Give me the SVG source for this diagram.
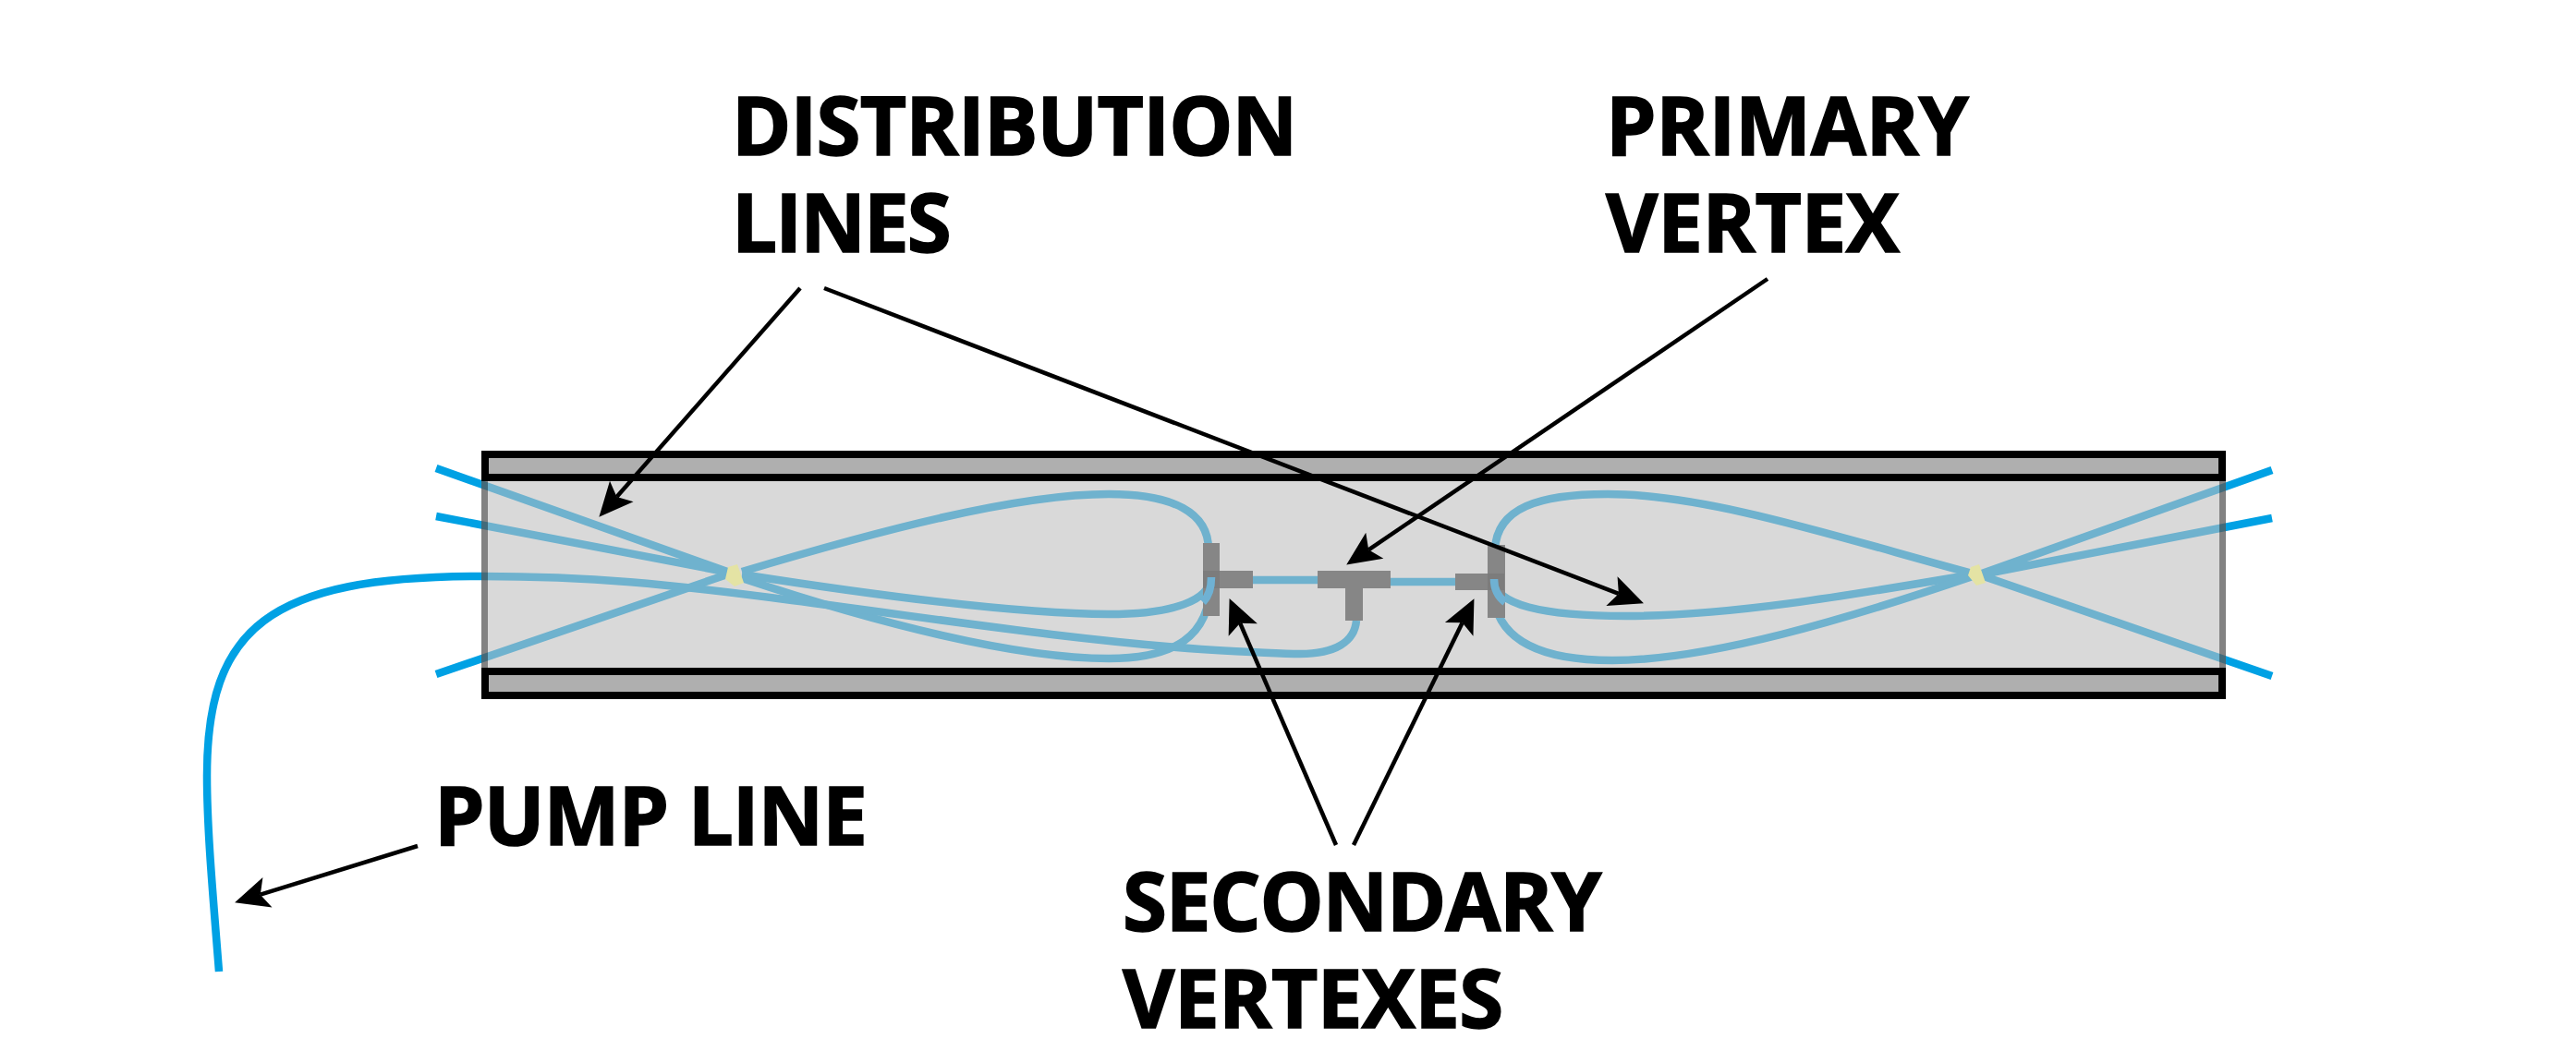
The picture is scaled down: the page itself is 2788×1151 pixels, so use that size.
<svg xmlns="http://www.w3.org/2000/svg" width="2788" height="1151" viewBox="0 0 2788 1151">
<style>
.lbl{font-family:"Open Sans","Noto Sans","Liberation Sans",sans-serif;font-weight:700;font-size:87px;fill:#000;stroke:#000;stroke-width:1.6px}
.line{fill:none;stroke:#00a1e4;stroke-width:8.5}
.line2{fill:none;stroke:#6fb1d3;stroke-width:8.5}
.band{fill:#afafaf;stroke:#000;stroke-width:8}
.edge{fill:#000;opacity:.4}
.t{fill:#868686}
.tx{fill:#7c7c7c}
.v{fill:#e4e3a4}
.arrow{fill:none;stroke:#000;stroke-width:4.5;marker-end:url(#head)}
</style>
<defs>
<marker id="head" markerUnits="userSpaceOnUse" markerWidth="50" markerHeight="40" viewBox="-10 -20 50 40" refX="0" refY="0" orient="auto" overflow="visible">
<path d="M29 0L-8 -17L0 0L-8 17Z" fill="#000"/>
</marker>
</defs>
<rect width="2788" height="1151" fill="#fff"/>
<g id="fibres">
<path class="line" d="M472 507L790 620M472 559L790 620M472 730L790 621"/>
<path class="line" d="M2459 509L2145 621M2459 561L2145 622M2459 732L2147 624"/>
<path class="line" d="M803 619C950 575 1100 535 1200 535C1270 535 1308 555 1308 595"/>
<path class="line" d="M803 622C950 645 1100 665 1200 665C1270 665 1310 650 1310 625"/>
<path class="line" d="M803 626C950 675 1100 713 1200 713C1270 713 1310 690 1310 630"/>
<path class="line" d="M2135 621C2000 585 1850 535 1740 535C1665 535 1620 550 1618 595"/>
<path class="line" d="M2135 622C2000 645 1870 667 1760 667C1670 667 1617 655 1617 627"/>
<path class="line" d="M2135 624C2000 670 1850 715 1745 715C1670 715 1625 695 1617 650"/>
<path class="line" d="M1356 628H1426M1505 630H1575"/>
<path id="pump-line" class="line" d="M237 1052C231 975 224 900 224 840C224 680 290 624 521 624C640 624 720 632 857 650C1000 668 1150 692 1300 703C1350 706 1390 708 1407 708C1445 708 1466 695 1468 672"/>
</g>
<g id="channel">
<rect x="521" y="521" width="1888" height="202" fill="#bebebe" fill-opacity=".584"/>
<rect class="band" x="525" y="492" width="1880" height="25"/>
<rect class="band" x="525" y="727" width="1880" height="26"/>
<rect class="edge" x="521" y="521" width="7" height="202"/>
<rect class="edge" x="2402" y="521" width="7" height="202"/>
</g>
<g id="vertex-left-secondary">
<rect class="t" x="1302" y="588" width="18" height="79"/>
<rect class="t" x="1302" y="618" width="54" height="19"/>
<rect class="tx" x="1302" y="618" width="18" height="19"/>
<path class="line2" d="M1302 652C1309 645 1311 636 1311 625"/>
</g>
<g id="vertex-primary">
<rect class="t" x="1426" y="618" width="79" height="19"/>
<rect class="t" x="1456" y="637" width="19" height="35"/>
</g>
<g id="vertex-right-secondary">
<rect class="t" x="1610" y="590" width="19" height="79"/>
<rect class="t" x="1575" y="621" width="53" height="18"/>
<rect class="tx" x="1610" y="621" width="18" height="18"/>
<path class="line2" d="M1629 652C1621 646 1617 638 1617 627"/>
</g>
<g id="vertex-left-junction"><polygon class="v" points="788,614 798,611 805,631 795,635 785,627"/></g>
<g id="vertex-right-junction"><polygon class="v" points="2130,623 2133,614 2142,611 2149,631 2139,634"/></g>
<g id="connectors">
<line class="arrow" x1="866" y1="312" x2="667.5" y2="538"/>
<line class="arrow" x1="892" y1="312" x2="1751.9" y2="642.9"/>
<line class="arrow" x1="1913" y1="302" x2="1481.2" y2="595.3"/>
<line class="arrow" x1="1446" y1="915" x2="1342.1" y2="674.7"/>
<line class="arrow" x1="1465" y1="915" x2="1582.7" y2="674.2"/>
<line class="arrow" x1="452" y1="916" x2="281.8" y2="968.7"/>
</g>
<g id="labels">
<text class="lbl" x="792" y="168" letter-spacing="-.8">DISTRIBUTION</text>
<text class="lbl" x="792" y="273" letter-spacing="-1.9">LINES</text>
<text class="lbl" x="1738" y="168" letter-spacing="-.3">PRIMARY</text>
<text class="lbl" x="1738" y="273" letter-spacing="-.4">VERTEX</text>
<text class="lbl" x="1215" y="1008" letter-spacing="-1.2">SECONDARY</text>
<text class="lbl" x="1215" y="1113" letter-spacing="-.6">VERTEXES</text>
<text class="lbl" x="470" y="915" letter-spacing="-1">PUMP LINE</text>
</g>
</svg>
